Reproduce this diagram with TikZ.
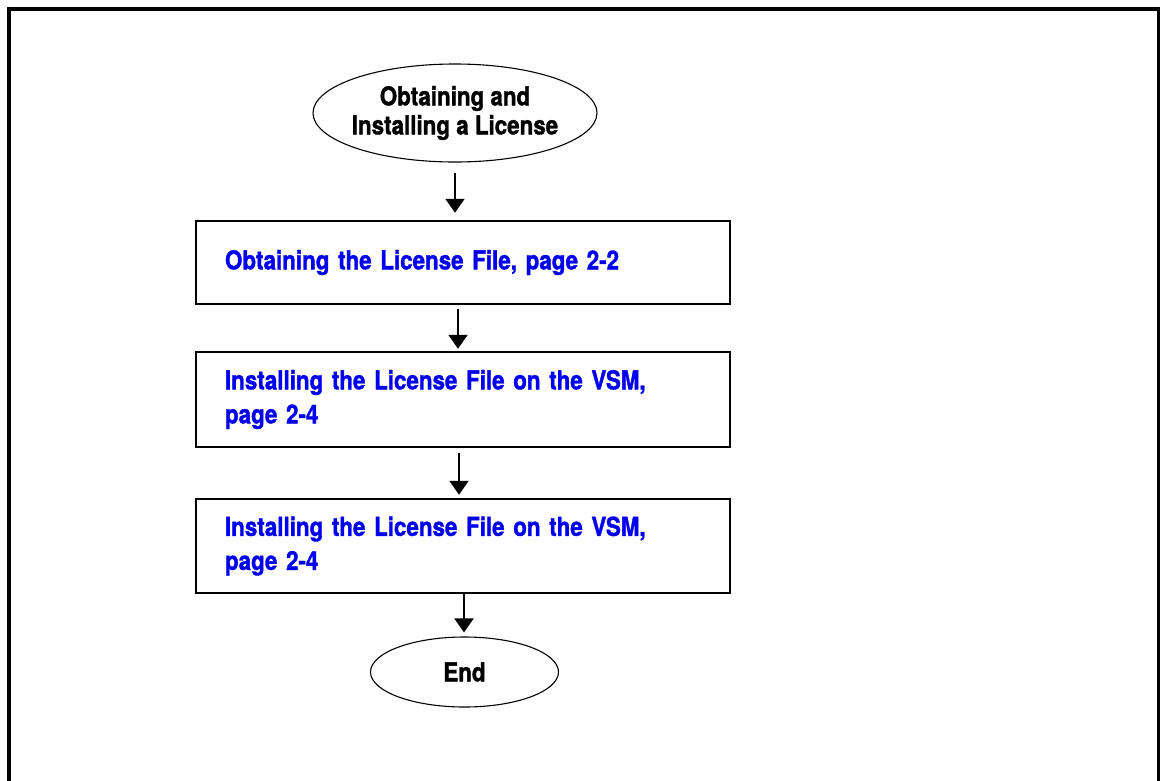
\documentclass[tikz,border=0pt]{standalone}
\usepackage{fontspec}
\setmainfont{TeX Gyre Heros}[FakeStretch=0.86,BoldFeatures={FakeBold=1.3}]
\usetikzlibrary{shapes.geometric,arrows.meta,calc}
\definecolor{linkblue}{RGB}{0,0,240}
\begin{document}
\begin{tikzpicture}[x=1pt,y=-1pt,
  term/.style={ellipse,draw,line width=1.1pt,inner xsep=-6pt,inner ysep=0pt,align=center,
    font=\bfseries\fontsize{26}{29}\selectfont},
  stepbox/.style={rectangle,draw,line width=2.5pt,minimum width=534pt,
    text width=476pt,inner xsep=29pt,inner ysep=0pt,align=left,text=linkblue,
    font=\bfseries\fontsize{26}{34}\selectfont},
  flow/.style={line width=2pt,-{Triangle[length=14pt,width=19pt]}}]
\useasboundingbox (0,0) rectangle (1160,780);
\begin{scope}
\clip (0,0) rectangle (1160,780);
\draw[line width=3.2pt] (9,9) rectangle (1159,800);
\end{scope}
\node[term,minimum width=284pt,minimum height=98pt] (e1) at (455,113) {Obtaining and\\Installing a License};
\node[stepbox,minimum height=83pt] (b1) at (463,262.5) {\raisebox{3pt}{Obtaining the License File, page 2-2}};
\node[stepbox,minimum height=95pt] (b2) at (463,399.5) {Installing the License File on the VSM,\\page 2-4};
\node[stepbox,minimum height=94pt] (b3) at (463,546) {Installing the License File on the VSM,\\page 2-4};
\node[term,minimum width=188pt,minimum height=70pt] (e2) at (464.5,672) {End};
\coordinate (a1s) at ($(e1.south)+(0,10)$);
\coordinate (a1e) at ($(e1.south |- b1.north)+(0,-7)$);
\draw[flow] (a1s) -- (a1e);
\coordinate (a2s) at ($(b1.south)+(-5,4)$);
\coordinate (a2e) at ($(a2s |- b2.north)+(0,-2)$);
\draw[flow] (a2s) -- (a2e);
\coordinate (a3s) at ($(b2.south)+(-4,5)$);
\coordinate (a3e) at ($(a3s |- b3.north)+(0,-3)$);
\draw[flow] (a3s) -- (a3e);
\coordinate (a4s) at ($(b3.south)+(1,0)$);
\coordinate (a4e) at ($(a4s |- e2.north)+(0,-4)$);
\draw[flow] (a4s) -- (a4e);
\end{tikzpicture}
\end{document}
